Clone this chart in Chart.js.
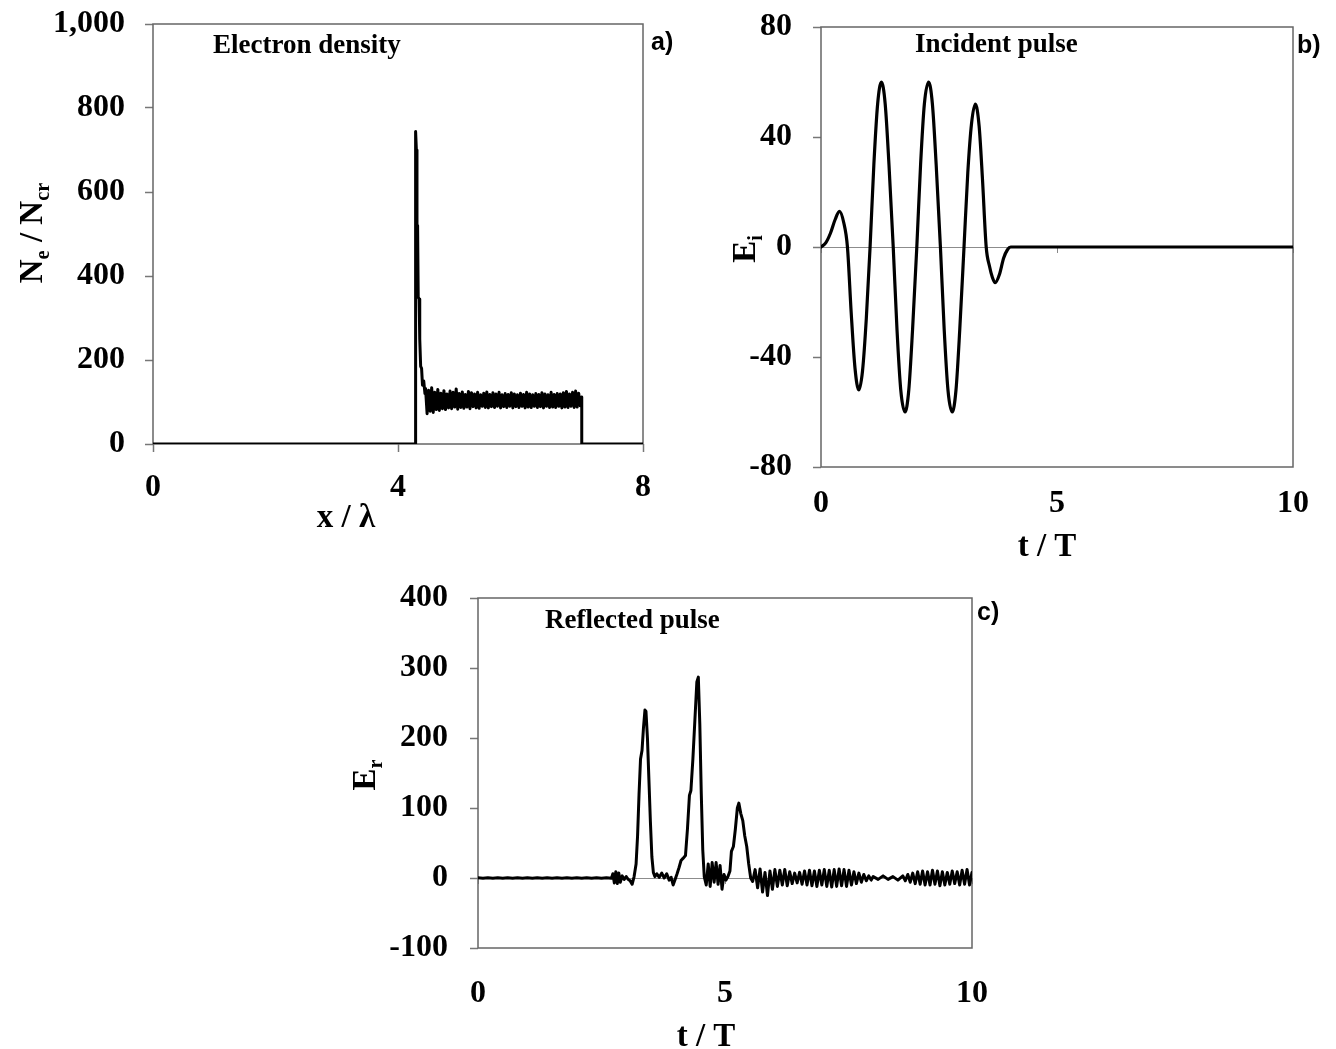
<!DOCTYPE html>
<html><head><meta charset="utf-8">
<script src="https://cdn.jsdelivr.net/npm/chart.js@4.4.0/dist/chart.umd.min.js"></script>
<style>
html,body{margin:0;padding:0;background:#fff;width:1336px;height:1049px;overflow:hidden}
canvas{position:absolute;left:0;top:0}
</style></head><body>
<canvas id="ca" width="1336" height="1049"></canvas>
<canvas id="cb" width="1336" height="1049"></canvas>
<canvas id="cc" width="1336" height="1049"></canvas>
<script>
// ---------------- DATA ----------------
// (a) Electron density  N_e/N_cr vs x/lambda
const densityX = [0, 4.28, 4.285, 4.29, 4.30, 4.31, 4.32, 4.33, 4.345, 4.355, 4.37, 4.385, 4.40, 4.42, 4.44,
  4.45, 4.475, 4.5, 4.525, 4.55, 4.575, 4.6, 4.625, 4.65, 4.675,
  4.7, 4.725, 4.75, 4.775, 4.8, 4.825, 4.85, 4.875, 4.9, 4.925,
  4.95, 4.975, 5, 5.025, 5.05, 5.075, 5.1, 5.125, 5.15, 5.175,
  5.2, 5.225, 5.25, 5.275, 5.3, 5.325, 5.35, 5.375, 5.4, 5.425,
  5.45, 5.475, 5.5, 5.525, 5.55, 5.575, 5.6, 5.625, 5.65, 5.675,
  5.7, 5.725, 5.75, 5.775, 5.8, 5.825, 5.85, 5.875, 5.9, 5.925,
  5.95, 5.975, 6, 6.025, 6.05, 6.075, 6.1, 6.125, 6.15, 6.175,
  6.2, 6.225, 6.25, 6.275, 6.3, 6.325, 6.35, 6.375, 6.4, 6.425,
  6.45, 6.475, 6.5, 6.525, 6.55, 6.575, 6.6, 6.625, 6.65, 6.675,
  6.7, 6.725, 6.75, 6.775, 6.8, 6.825, 6.85, 6.875, 6.9, 6.925,
  6.95, 6.975, 7.0, 7.0, 8];
const densityY = [0, 0, 500, 744, 700, 490, 520, 350, 345, 250, 185, 180, 140, 150, 120,
  132, 72, 128, 78, 134, 75, 123, 82, 130, 80,
  121, 84, 127, 82, 119, 86, 126, 84, 123, 88,
  131, 83, 120, 87, 124, 85, 118, 88, 125, 84,
  122, 89, 119, 86, 123, 85, 117, 90, 121, 87,
  124, 86, 118, 89, 122, 87, 119, 90, 123, 86,
  117, 89, 120, 87, 118, 90, 122, 86, 119, 89,
  117, 87, 121, 90, 118, 86, 123, 88, 119, 87,
  117, 90, 120, 87, 118, 89, 122, 86, 119, 90,
  117, 87, 123, 88, 118, 87, 120, 90, 119, 86,
  122, 88, 125, 87, 119, 90, 123, 87, 126, 88,
  121, 91, 112, 0, 0];
const densityXTicks = [0, 4, 8];
const densityXTickLabels = ['0', '4', '8'];
const densityYTicks = [0, 200, 400, 600, 800, 1000];
const densityYTickLabels = ['0', '200', '400', '600', '800', '1,000'];

// (b) Incident pulse  E_i vs t/T
const incidentT = [0, 0.1, 0.2, 0.3, 0.39, 0.48, 0.56, 0.64, 0.72, 0.80,
  0.88, 0.96, 1.04, 1.12, 1.20, 1.28, 1.36, 1.44, 1.53, 1.61,
  1.69, 1.78, 1.86, 1.94, 2.03, 2.11, 2.19, 2.28, 2.36, 2.44,
  2.53, 2.61, 2.69, 2.78, 2.86, 2.94, 3.03, 3.11, 3.19, 3.27,
  3.35, 3.42, 3.50, 3.57, 3.63, 3.69, 3.78, 3.87, 3.95, 4.02, 10];
const incidentE = [0, 1.5, 5, 10, 13, 9, 0, -24, -44, -52,
  -45, -26, 0, 30, 52, 60, 52, 30, 0, -30,
  -52, -60, -52, -30, 0, 30, 52, 60, 52, 30,
  0, -30, -52, -60, -52, -30, 0, 27, 45, 52,
  44, 25, 0, -7, -11, -13, -10, -4, -1, 0, 0];
const incidentXTicks = [0, 5, 10];
const incidentXTickLabels = ['0', '5', '10'];
const incidentYTicks = [-80, -40, 0, 40, 80];
const incidentYTickLabels = ['-80', '-40', '0', '40', '80'];

// (c) Reflected pulse  E_r vs t/T
const reflectedT = [0, 0.1, 0.2, 0.3, 0.4, 0.5, 0.6, 0.7, 0.8, 0.9, 1, 1.1, 1.2, 1.3, 1.4, 1.5, 1.6, 1.7, 1.8, 1.9, 2, 2.1, 2.2, 2.3, 2.4, 2.5, 2.6, 2.7,
  2.73, 2.76, 2.79, 2.82, 2.85, 2.88, 2.92, 2.96, 3.0, 3.04, 3.08, 3.12, 3.16,
  3.2, 3.23, 3.26, 3.29, 3.32, 3.35, 3.38, 3.40, 3.43, 3.46, 3.49, 3.52, 3.55, 3.58,
  3.62, 3.67, 3.72, 3.77, 3.82, 3.87, 3.91, 3.95, 3.99, 4.03,
  4.07, 4.11, 4.15, 4.2, 4.24, 4.28, 4.31, 4.35, 4.39, 4.43, 4.46, 4.49, 4.52, 4.55, 4.58,
  4.62, 4.66, 4.70, 4.74, 4.78, 4.82, 4.86, 4.90, 4.94, 4.98, 5.02, 5.06,
  5.10, 5.13, 5.17, 5.21, 5.25, 5.28, 5.32, 5.36, 5.40, 5.44, 5.48, 5.52,
  5.56, 5.61, 5.66, 5.71, 5.76, 5.81, 5.86, 5.91, 5.96, 6.01, 6.06, 6.11, 6.16, 6.21, 6.26, 6.31, 6.36, 6.41, 6.46, 6.51,
  6.56, 6.61, 6.66, 6.71, 6.76, 6.81, 6.86, 6.91, 6.96, 7.01, 7.06, 7.11, 7.16, 7.21, 7.26, 7.31, 7.36, 7.41, 7.46, 7.51,
  7.56, 7.61, 7.66, 7.71, 7.76, 7.81, 7.86, 7.91, 7.96,
  8.0, 8.1, 8.2, 8.3, 8.4, 8.5, 8.6,
  8.65, 8.7, 8.75, 8.8, 8.85, 8.9, 8.95, 9.0, 9.05, 9.1, 9.15, 9.2, 9.25, 9.3, 9.35, 9.4, 9.45, 9.5, 9.55, 9.6, 9.65, 9.7, 9.75, 9.8, 9.85, 9.9, 9.95, 10];
const reflectedE = [0.5, -0.5, 0.5, -0.5, 0.5, -0.5, 0.5, -0.5, 0.5, -0.5, 0.5, -0.5, 0.5, -0.5, 0.5, -0.5, 0.5, -0.5, 0.5, -0.5, 0.5, -0.5, 0.5, -0.5, 0.5, -0.5, 0.5, -0.5,
  6, -7, 9, -8, 7, -6, 3, -2, 2, -2, -4, -9, 2,
  20, 60, 120, 170, 182, 215, 240, 238, 200, 140, 80, 30, 8, 2,
  6, 1, 7, 0, 6, -3, 1, -10, -2, 6,
  15, 25, 28, 32, 70, 118, 125, 170, 225, 280, 287, 220, 120, 40, 2,
  -10, 20, -12, 22, -6, 22, -9, 18, -16, 5, -3, 2,
  10, 38, 45, 70, 100, 107, 92, 82, 60, 45, 20, 0,
  -5, 12, -14, 13, -20, 8, -25, 10, -16, 12, -12, 11, -10, 12, -11, 9, -8, 7, -7, 8,
  -9, 10, -10, 11, -11, 10, -12, 11, -10, 12, -12, 11, -13, 12, -12, 13, -11, 12, -12, 11,
  -10, 9, -8, 7, -6, 5, -4, 3, -3,
  2, -2, 3, -2, 2, -3, 3,
  -4, 5, -6, 7, -8, 9, -9, 10, -10, 9, -10, 11, -9, 10, -11, 9, -10, 8, -9, 10, -8, 9, -10, 11, -9, 12, -10, 8];
const reflectedXTicks = [0, 5, 10];
const reflectedXTickLabels = ['0', '5', '10'];
const reflectedYTicks = [-100, 0, 100, 200, 300, 400];
const reflectedYTickLabels = ['-100', '0', '100', '200', '300', '400'];

// ---------------- RENDERING ----------------
const SERIF = "'Liberation Serif', 'Times New Roman', serif";
const SANS = "'Liberation Sans', Arial, sans-serif";
const TICK_FONT = {family: SERIF, size: 32, weight: 'bold'};

function pts(xs, ys) { return xs.map((x, i) => ({x: x, y: ys[i]})); }

function measureParts(ctx, parts, size) {
  let w = 0;
  for (const p of parts) {
    ctx.font = 'bold ' + (p[1] ? size * 0.62 : size) + 'px ' + SERIF;
    w += ctx.measureText(p[0]).width;
  }
  return w;
}
function renderParts(ctx, parts, size, x, y) {
  for (const p of parts) {
    const fs = p[1] ? size * 0.62 : size;
    ctx.font = 'bold ' + fs + 'px ' + SERIF;
    ctx.fillText(p[0], x, y + (p[1] ? size * 0.22 : 0));
    x += ctx.measureText(p[0]).width;
  }
}

function decorPlugin(spec) {
  return {
    id: 'decor',
    beforeDatasetsDraw(chart) {
      const a = chart.chartArea, ctx = chart.ctx;
      ctx.save();
      ctx.strokeStyle = '#666';
      ctx.lineWidth = 1.5;
      ctx.strokeRect(a.left, a.top, a.right - a.left, a.bottom - a.top);
      ctx.restore();
    },
    afterDraw(chart) {
      const ctx = chart.ctx;
      ctx.save();
      ctx.fillStyle = '#000';
      ctx.textAlign = 'left';
      ctx.textBaseline = 'alphabetic';
      const xt = spec.xTitle;
      let w = measureParts(ctx, xt.parts, xt.size);
      renderParts(ctx, xt.parts, xt.size, xt.cx - w / 2, xt.baseline);
      const yt = spec.yTitle;
      w = measureParts(ctx, yt.parts, yt.size);
      ctx.save();
      ctx.translate(yt.baseline, yt.cy);
      ctx.rotate(-Math.PI / 2);
      renderParts(ctx, yt.parts, yt.size, -w / 2, 0);
      ctx.restore();
      ctx.font = 'bold ' + spec.inner.size + 'px ' + SERIF;
      ctx.fillText(spec.inner.text, spec.inner.x, spec.inner.baseline);
      ctx.font = 'bold ' + spec.letter.size + 'px ' + SANS;
      ctx.fillText(spec.letter.text, spec.letter.x, spec.letter.baseline);
      ctx.restore();
    }
  };
}

function tickSetter(values) {
  return function (scale) { scale.ticks = values.map(v => ({value: v})); };
}
function tickLabeler(values, labels) {
  return function (v) { const i = values.indexOf(v); return i >= 0 ? labels[i] : ''; };
}

function makeChart(id, o) {
  const scales = {
    x: {
      type: 'linear', position: 'bottom', min: o.xMin, max: o.xMax,
      afterBuildTicks: tickSetter(o.xTicks),
      afterFit: function (s) { s.height = 100; s.paddingLeft = 0; s.paddingRight = 0; },
      ticks: {font: TICK_FONT, color: '#000', padding: o.xPad, maxRotation: 0,
              autoSkip: false, callback: tickLabeler(o.xTicks, o.xLabels)},
      grid: o.xTickMarks ? {display: true, drawOnChartArea: false, drawTicks: true, tickLength: 8, tickColor: '#777', tickWidth: 1.5}
                         : {display: false},
      border: {display: false}
    },
    y: {
      type: 'linear', position: 'left', min: o.yMin, max: o.yMax,
      afterBuildTicks: tickSetter(o.yTicks),
      afterFit: function (s) { s.width = 100; s.paddingTop = 0; s.paddingBottom = 0; },
      ticks: {font: TICK_FONT, color: '#000', padding: o.yPad,
              autoSkip: false, callback: tickLabeler(o.yTicks, o.yLabels)},
      grid: {display: true, drawOnChartArea: o.zeroLine, drawTicks: true, tickLength: 8,
             tickColor: '#777', tickWidth: 1.5, lineWidth: 1,
             color: function (c) { return (c.tick && c.tick.value === 0) ? '#8c8c8c' : 'rgba(0,0,0,0)'; }},
      border: {display: false}
    }
  };
  if (o.zeroLine) {
    scales.x2 = {
      type: 'linear', axis: 'x', position: {y: 0}, min: o.xMin, max: o.xMax,
      afterBuildTicks: tickSetter(o.xTicks),
      afterFit: function (s) { s.paddingLeft = 0; s.paddingRight = 0; },
      ticks: {display: false},
      grid: {display: true, drawOnChartArea: false, drawTicks: true, tickLength: 6, tickColor: '#888', tickWidth: 1},
      border: {display: false}
    };
  }
  return new Chart(document.getElementById(id), {
    type: 'line',
    data: {datasets: [{
      data: pts(o.xs, o.ys), xAxisID: 'x', yAxisID: 'y',
      borderColor: '#000', borderWidth: o.lineWidth, pointRadius: 0,
      borderJoinStyle: 'round', borderCapStyle: 'round',
      tension: 0, cubicInterpolationMode: o.monotone ? 'monotone' : 'default',
      fill: false
    }]},
    options: {
      responsive: false, animation: false, devicePixelRatio: 1,
      layout: {padding: o.padding, autoPadding: false},
      plugins: {legend: {display: false}, tooltip: {enabled: false}},
      events: [],
      scales: scales
    },
    plugins: [decorPlugin(o.decor)]
  });
}

// (a) chart area: left 153, top 24, right 643, bottom 444
makeChart('ca', {
  xs: densityX, ys: densityY, xMin: 0, xMax: 8, yMin: 0, yMax: 1000,
  xTicks: densityXTicks, xLabels: densityXTickLabels,
  yTicks: densityYTicks, yLabels: densityYTickLabels,
  xPad: 17, yPad: 20, xTickMarks: true, zeroLine: false, lineWidth: 3, monotone: false,
  padding: {left: 53, top: 24, right: 1336 - 643, bottom: 1049 - 444 - 100},
  decor: {
    xTitle: {parts: [['x / λ', false]], size: 33, cx: 346, baseline: 527},
    yTitle: {parts: [['N', false], ['e', true], [' / N', false], ['cr', true]], size: 33, baseline: 42, cy: 233},
    inner: {text: 'Electron density', size: 27, x: 213, baseline: 53},
    letter: {text: 'a)', size: 25, x: 651, baseline: 50}
  }
});

// (b) chart area: left 821, top 27, right 1293, bottom 467
makeChart('cb', {
  xs: incidentT, ys: incidentE, xMin: 0, xMax: 10, yMin: -80, yMax: 80,
  xTicks: incidentXTicks, xLabels: incidentXTickLabels,
  yTicks: incidentYTicks, yLabels: incidentYTickLabels,
  xPad: 10, yPad: 21, xTickMarks: false, zeroLine: true, lineWidth: 3.2, monotone: true,
  padding: {left: 721, top: 27, right: 1336 - 1293, bottom: 1049 - 467 - 100},
  decor: {
    xTitle: {parts: [['t / T', false]], size: 33, cx: 1047, baseline: 556},
    yTitle: {parts: [['E', false], ['i', true]], size: 33, baseline: 755, cy: 249},
    inner: {text: 'Incident pulse', size: 27, x: 915, baseline: 52},
    letter: {text: 'b)', size: 25, x: 1297, baseline: 53}
  }
});

// (c) chart area: left 478, top 598, right 972, bottom 948
makeChart('cc', {
  xs: reflectedT, ys: reflectedE, xMin: 0, xMax: 10, yMin: -100, yMax: 400,
  xTicks: reflectedXTicks, xLabels: reflectedXTickLabels,
  yTicks: reflectedYTicks, yLabels: reflectedYTickLabels,
  xPad: 19, yPad: 22, xTickMarks: false, zeroLine: true, lineWidth: 3, monotone: false,
  padding: {left: 378, top: 598, right: 1336 - 972, bottom: 1049 - 948 - 100},
  decor: {
    xTitle: {parts: [['t / T', false]], size: 33, cx: 706, baseline: 1046},
    yTitle: {parts: [['E', false], ['r', true]], size: 33, baseline: 375, cy: 775},
    inner: {text: 'Reflected pulse', size: 27, x: 545, baseline: 628},
    letter: {text: 'c)', size: 25, x: 977, baseline: 620}
  }
});
</script>
</body></html>
